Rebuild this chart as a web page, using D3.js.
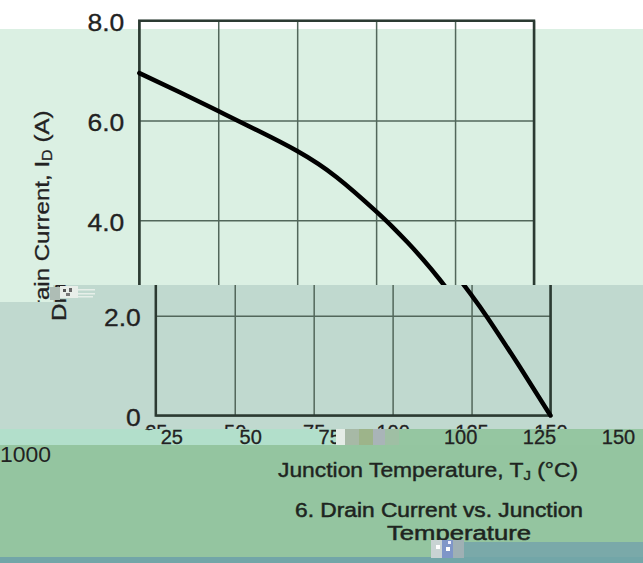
<html>
<head>
<script src="https://cdnjs.cloudflare.com/ajax/libs/d3/7.8.5/d3.min.js"></script>
<style>
body { margin: 0; background: #fff; }
text { font-family: "Liberation Sans", Arial, sans-serif; fill: #222; }
</style>
</head>
<body>
<svg id="chart" width="643" height="563"></svg>
<script>
// junction temperature (deg C) and drain current (A)
const tempC  = [25, 37.5, 50, 62.5, 75, 87.5, 100, 105, 110, 115, 120, 125, 130, 140, 150];
const drainA = [6.95, 6.575, 6.19, 5.8, 5.39, 4.865, 4.18, 3.88, 3.555, 3.205, 2.825, 2.41, 1.965, 1.0, 0];
const xTicks = [25, 50, 75, 100, 125, 150];
const yTicks = [0, 2, 4, 6, 8];
const yTickLabels = ["0", "2.0", "4.0", "6.0", "8.0"];

const svg = d3.select("#chart");
const x = d3.scaleLinear().domain([25, 150]).range([139.3, 534]);
const y = d3.scaleLinear().domain([0, 8]).range([420, 20.7]);
const data = tempC.map((t, i) => ({t: t, a: drainA[i]}));

// background bands of the scanned page
const bands = [
  [0, 0, 643, 29, "#ffffff"],
  [0, 29, 643, 256, "#dbf0e3"],
  [53, 285, 590, 144, "#c0d9cf"],
  [0, 285, 53, 17, "#dbf0e3"],
  [0, 302, 53, 127, "#c0d9cf"],
  [0, 429, 336, 16, "#b2dfcb"],
  [336, 429, 307, 16, "#95c6a1"],
  [0, 445, 643, 112, "#94c5a0"],
  [464, 542, 179, 15, "#7aa9a9"],
  [0, 557, 643, 6, "#72a6a8"]
];
svg.selectAll("rect.band").data(bands).enter().append("rect")
  .attr("class", "band")
  .attr("x", d => d[0]).attr("y", d => d[1])
  .attr("width", d => d[2]).attr("height", d => d[3])
  .attr("fill", d => d[4]);

function drawChart(g) {
  const xAxis = g.append("g")
    .attr("transform", "translate(0," + y(0) + ")")
    .call(d3.axisBottom(x).tickValues(xTicks).tickSize(-(y(0) - y(8))).tickPadding(9.5).tickFormat(d3.format("d")));
  xAxis.select(".domain").remove();
  xAxis.selectAll(".tick line").attr("stroke", "#52675b").attr("stroke-width", 1.5);
  xAxis.selectAll(".tick text").attr("font-size", 20).attr("fill", "#222")
    .attr("stroke", "#222").attr("stroke-width", 0.3)
    .style("font-family", "Liberation Sans, Arial, sans-serif");

  const yAxis = g.append("g")
    .attr("transform", "translate(" + x(25) + ",0)")
    .call(d3.axisLeft(y).tickValues(yTicks).tickSize(-(x(150) - x(25))).tickPadding(15)
      .tickFormat((d, i) => yTickLabels[i]));
  yAxis.select(".domain").remove();
  yAxis.selectAll(".tick line").attr("stroke", "#52675b").attr("stroke-width", 1.5);
  yAxis.selectAll(".tick text").attr("font-size", 23).attr("fill", "#222")
    .attr("stroke", "#222").attr("stroke-width", 0.3)
    .style("font-family", "Liberation Sans, Arial, sans-serif")
    .attr("dy", "0.43em")
    .each(function() {
      const w = this.getComputedTextLength() * 1.15;
      d3.select(this).attr("text-anchor", "start").attr("x", -15 - w)
        .attr("textLength", w).attr("lengthAdjust", "spacingAndGlyphs");
    });

  g.append("rect")
    .attr("x", x(25)).attr("y", y(8))
    .attr("width", x(150) - x(25)).attr("height", y(0) - y(8))
    .attr("fill", "none").attr("stroke", "#2b3a32").attr("stroke-width", 2.5);

  g.append("path").datum(data)
    .attr("fill", "none").attr("stroke", "#000").attr("stroke-width", 4.5)
    .attr("stroke-linecap", "round")
    .attr("d", d3.line().x(d => x(d.t)).y(d => y(d.a)).curve(d3.curveNatural));

  const yt = g.append("text")
    .attr("transform", "translate(49,218) rotate(-90)")
    .attr("text-anchor", "middle").attr("font-size", 21)
    .attr("stroke", "#222").attr("stroke-width", 0.3)
    .attr("textLength", 215).attr("lengthAdjust", "spacingAndGlyphs");
  yt.append("tspan").text("Drain Current, I");
  yt.append("tspan").attr("font-size", 14).attr("dy", 3).text("D");
  yt.append("tspan").attr("dy", -3).text(" (A)");
}

// the scan is torn into slices that are shifted against each other
const defs = svg.append("defs");
const slices = [
  {id: "cA", dx: 0, dy: 0, rects: [[0, 0, 643, 285], [0, 285, 53, 17]]},
  {id: "cB", dx: 16.5, dy: -4.5, rects: [[53, 285, 590, 144], [0, 302, 53, 127]]},
  {id: "cL", dx: 32, dy: 0, rects: [[0, 429, 336, 16]]},
  {id: "cR", dx: 84, dy: 0, rects: [[399, 429, 244, 16]]}
];
slices.forEach(s => {
  const cp = defs.append("clipPath").attr("id", s.id);
  s.rects.forEach(r => cp.append("rect").attr("x", r[0]).attr("y", r[1]).attr("width", r[2]).attr("height", r[3]));
  const outer = svg.append("g").attr("clip-path", "url(#" + s.id + ")");
  drawChart(outer.append("g").attr("transform", "translate(" + s.dx + "," + s.dy + ")"));
});

// captions below the plot
svg.append("text").attr("x", 0).attr("y", 462).attr("font-size", 22)
  .attr("textLength", 51).attr("lengthAdjust", "spacingAndGlyphs").text("1000");

const xt = svg.append("text").attr("x", 278).attr("y", 477).attr("font-size", 20)
  .attr("fill", "#1b2a1e").attr("stroke", "#1b2a1e").attr("stroke-width", 0.4)
  .attr("textLength", 300).attr("lengthAdjust", "spacingAndGlyphs");
xt.append("tspan").text("Junction Temperature, T");
xt.append("tspan").attr("font-size", 13).attr("dy", 3).text("J");
xt.append("tspan").attr("dy", -3).text(" (°C)");

svg.append("text").attr("x", 295).attr("y", 517).attr("font-size", 20)
  .attr("fill", "#1b2a1e").attr("stroke", "#1b2a1e").attr("stroke-width", 0.5)
  .attr("textLength", 288).attr("lengthAdjust", "spacingAndGlyphs")
  .text("6. Drain Current vs. Junction");
svg.append("text").attr("x", 387).attr("y", 540).attr("font-size", 20)
  .attr("fill", "#1b2a1e").attr("stroke", "#1b2a1e").attr("stroke-width", 0.5)
  .attr("textLength", 144).attr("lengthAdjust", "spacingAndGlyphs")
  .text("Temperature");

// broken blocks of the scan
const blocks = [
  [336, 429, 9, 16, "#e4ece6"], [345, 429, 14, 16, "#a7b9a6"], [359, 429, 14, 16, "#9db48a"],
  [373, 429, 12, 16, "#a9b4b8"], [385, 429, 14, 16, "#9fbfa4"],
  [50, 287, 10, 13, "#aebdb5"], [60, 286, 18, 12, "#e8eee9"], [63, 289, 3, 3, "#555"],
  [69, 288, 3, 4, "#666"], [66, 293, 4, 3, "#777"], [78, 289, 17, 1.5, "#e6efe9"],
  [78, 293, 17, 1.5, "#e6efe9"], [78, 296, 15, 1.5, "#e6efe9"],
  [431, 540, 11, 18, "#c9d3d3"], [442, 540, 11, 18, "#7f96c8"], [453, 540, 11, 18, "#9fb0b4"],
  [436, 545, 4, 4, "#fff"], [446, 547, 4, 4, "#fff"], [448, 541, 3, 3, "#eef"]
];
svg.selectAll("rect.block").data(blocks).enter().append("rect")
  .attr("class", "block")
  .attr("x", d => d[0]).attr("y", d => d[1])
  .attr("width", d => d[2]).attr("height", d => d[3])
  .attr("fill", d => d[4]);
</script>
</body>
</html>
